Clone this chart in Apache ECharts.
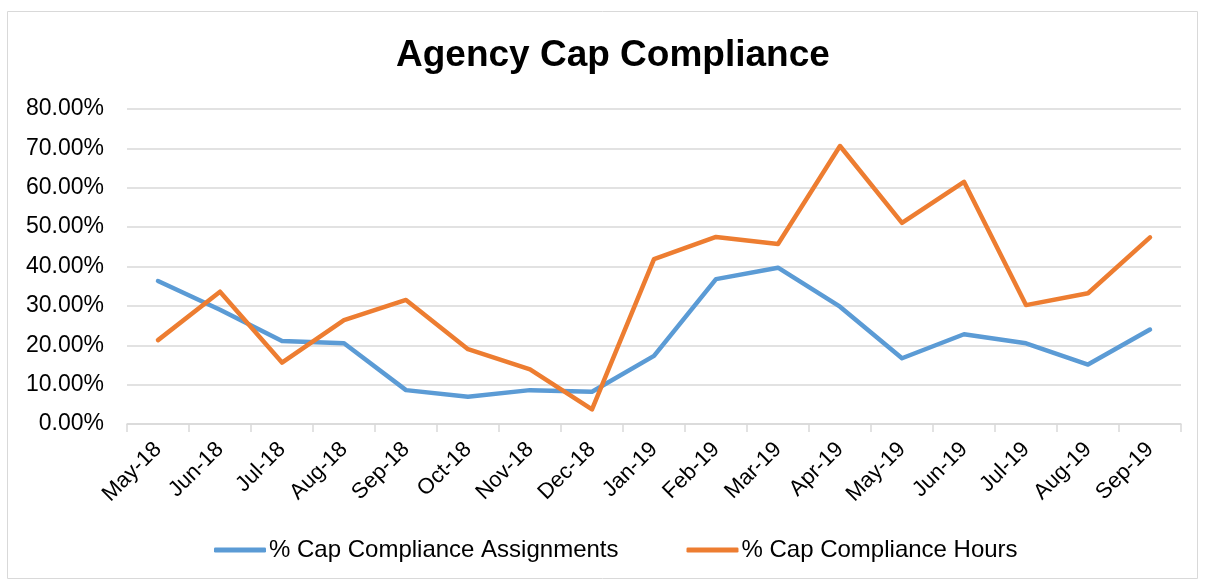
<!DOCTYPE html>
<html><head><meta charset="utf-8">
<script src="https://cdn.jsdelivr.net/npm/echarts@6/dist/echarts.min.js"></script>
<style>html,body{margin:0;padding:0;background:#fff}#c{width:1205px;height:582px}</style>
</head><body><div id="c"></div>
<script>
const categories = ['May-18','Jun-18','Jul-18','Aug-18','Sep-18','Oct-18','Nov-18','Dec-18','Jan-19','Feb-19','Mar-19','Apr-19','May-19','Jun-19','Jul-19','Aug-19','Sep-19'];
const assignments = [36.3, 29.0, 21.1, 20.5, 8.6, 6.9, 8.6, 8.2, 17.3, 36.8, 39.7, 29.8, 16.7, 22.8, 20.5, 15.1, 24.0];
const hours = [21.3, 33.6, 15.6, 26.4, 31.5, 19.0, 13.9, 3.7, 41.9, 47.5, 45.7, 70.6, 51.1, 61.5, 30.2, 33.2, 47.4];
const yTicks = [0, 10, 20, 30, 40, 50, 60, 70, 80];

const chart = echarts.init(document.getElementById('c'), null, {renderer: 'canvas'});
const font = 'Liberation Sans, Arial, sans-serif';
chart.setOption({
  animation: false,
  graphic: [{type: 'rect', shape: {x: 7.5, y: 11.5, width: 1190, height: 567}, style: {fill: 'none', stroke: '#d9d9d9', lineWidth: 1}, silent: true}],
  title: {text: 'Agency Cap Compliance', left: 391, top: 32, textStyle: {fontFamily: font, fontSize: 37, fontWeight: 'bold', color: '#000'}},
  legend: {bottom: 15, left: 209, itemWidth: 52, itemHeight: 5, itemGap: 68, icon: 'roundRect',
    textStyle: {fontFamily: font, fontSize: 24, color: '#000', padding: [0, 0, 0, -2]},
    data: ['% Cap Compliance Assignments', '% Cap Compliance Hours']},
  grid: {left: 127, right: 24, top: 109, bottom: 158, containLabel: false},
  xAxis: {type: 'category', data: categories, boundaryGap: true,
    axisLine: {lineStyle: {color: '#d9d9d9', width: 1.5}},
    axisTick: {show: true, length: 8, lineStyle: {color: '#d9d9d9', width: 1.5}},
    axisLabel: {rotate: 45, fontFamily: font, fontSize: 22, color: '#000', interval: 0, margin: 22}},
  yAxis: {type: 'value', min: yTicks[0], max: yTicks[yTicks.length - 1], interval: 10,
    axisLine: {show: false}, axisTick: {show: false},
    splitLine: {lineStyle: {color: '#d9d9d9', width: 1.5}},
    axisLabel: {fontFamily: font, fontSize: 23, color: '#000', margin: 23, formatter: v => v.toFixed(2) + '%'}},
  series: [
    {name: '% Cap Compliance Assignments', type: 'line', data: assignments, symbol: 'none',
      lineStyle: {width: 4.5, color: '#5B9BD5', cap: 'round', join: 'round'}, itemStyle: {color: '#5B9BD5'}},
    {name: '% Cap Compliance Hours', type: 'line', data: hours, symbol: 'none',
      lineStyle: {width: 4.5, color: '#ED7D31', cap: 'round', join: 'round'}, itemStyle: {color: '#ED7D31'}}
  ]
});
</script></body></html>
